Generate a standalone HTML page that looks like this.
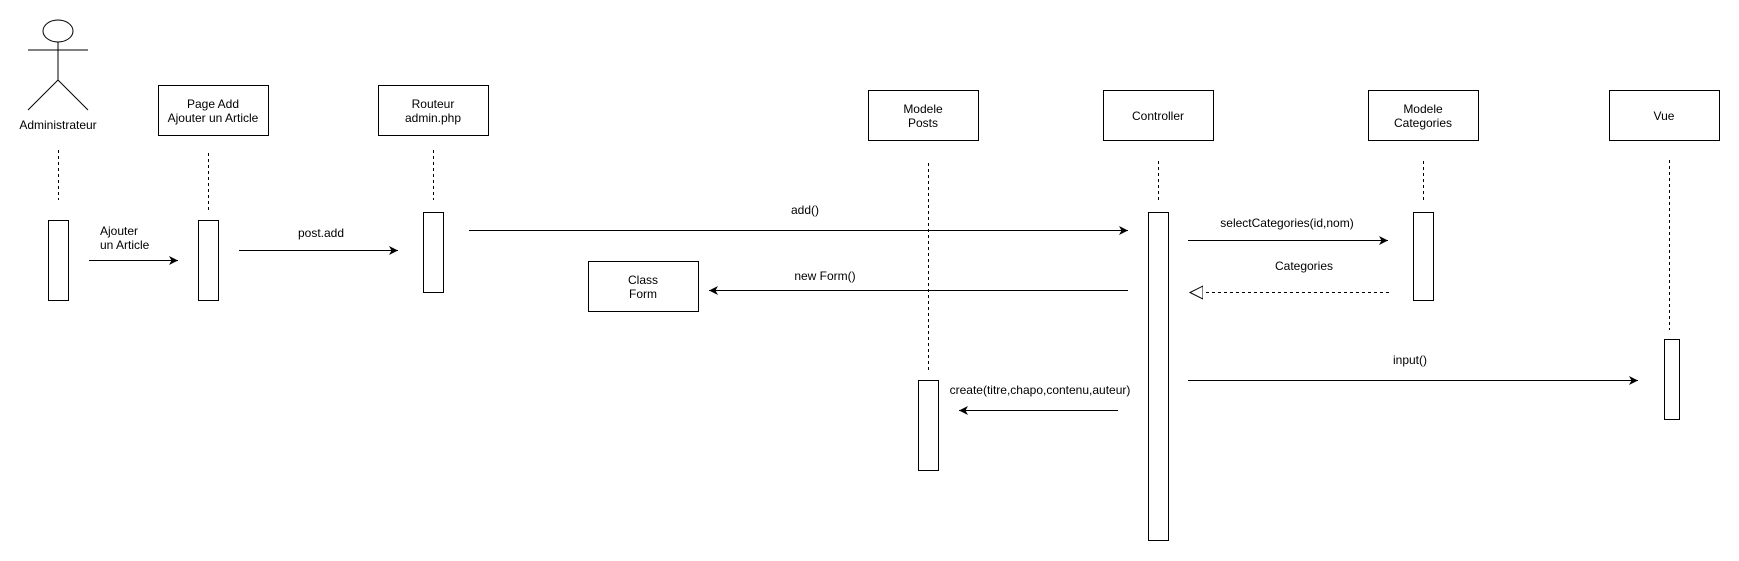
<!DOCTYPE html>
<html><head><meta charset="utf-8"><style>
html,body{margin:0;padding:0;background:#fff;}
svg{display:block;}
text{font-family:"Liberation Sans",sans-serif;font-size:12px;fill:#000;}
</style></head><body>
<svg width="1739" height="561" viewBox="0 0 1739 561" xmlns="http://www.w3.org/2000/svg">
<defs>
<marker id="a" markerWidth="12" markerHeight="12" refX="9" refY="4.5" orient="auto" markerUnits="userSpaceOnUse">
<path d="M0,0 L9,4.5 L0,9 L2.5,4.5 Z" fill="#000"/>
</marker>
<marker id="o" markerWidth="16" markerHeight="16" refX="13" refY="7" orient="auto" markerUnits="userSpaceOnUse">
<path d="M0,0.5 L13,7 L0,13.5 Z" fill="#fff" stroke="#000" stroke-width="1"/>
</marker>
</defs>
<g fill="none" stroke="#000" stroke-width="1">
<ellipse cx="58" cy="31" rx="15" ry="11"/>
<line x1="28" y1="50" x2="88" y2="50"/>
<line x1="58" y1="42" x2="58" y2="80"/>
<line x1="58" y1="80" x2="28" y2="110"/>
<line x1="58" y1="80" x2="88" y2="110"/>
<rect x="158.5" y="85.5" width="110" height="50"/>
<rect x="378.5" y="85.5" width="110" height="50"/>
<rect x="868.5" y="90.5" width="110" height="50"/>
<rect x="1103.5" y="90.5" width="110" height="50"/>
<rect x="1368.5" y="90.5" width="110" height="50"/>
<rect x="1609.5" y="90.5" width="110" height="50"/>
<rect x="588.5" y="261.5" width="110" height="50"/>
<g stroke-dasharray="3,3">
<line x1="58.5" y1="150" x2="58.5" y2="200"/>
<line x1="208.5" y1="153" x2="208.5" y2="210"/>
<line x1="433.5" y1="150" x2="433.5" y2="200"/>
<line x1="928.5" y1="163" x2="928.5" y2="371"/>
<line x1="1158.5" y1="161" x2="1158.5" y2="200"/>
<line x1="1423.5" y1="161" x2="1423.5" y2="200"/>
<line x1="1669.5" y1="160" x2="1669.5" y2="330"/>
</g>
<rect x="48.5" y="220.5" width="20" height="80"/>
<rect x="198.5" y="220.5" width="20" height="80"/>
<rect x="423.5" y="212.5" width="20" height="80"/>
<rect x="918.5" y="380.5" width="20" height="90"/>
<rect x="1148.5" y="212.5" width="20" height="328"/>
<rect x="1413.5" y="212.5" width="20" height="88"/>
<rect x="1664.5" y="339.5" width="15" height="80"/>
<line x1="89" y1="260.5" x2="178" y2="260.5" marker-end="url(#a)"/>
<line x1="239" y1="250.5" x2="398" y2="250.5" marker-end="url(#a)"/>
<line x1="469" y1="230.5" x2="1128" y2="230.5" marker-end="url(#a)"/>
<line x1="1128" y1="290.5" x2="709" y2="290.5" marker-end="url(#a)"/>
<line x1="1118" y1="410.5" x2="959" y2="410.5" marker-end="url(#a)"/>
<line x1="1188" y1="240.5" x2="1388" y2="240.5" marker-end="url(#a)"/>
<line x1="1389" y1="292.5" x2="1190" y2="292.5" stroke-dasharray="3,3" marker-end="url(#o)"/>
<line x1="1188" y1="380.5" x2="1638" y2="380.5" marker-end="url(#a)"/>
</g>
<g text-anchor="middle">
<text x="58" y="129">Administrateur</text>
<text x="213" y="108">Page Add</text>
<text x="213" y="122">Ajouter un Article</text>
<text x="433" y="108">Routeur</text>
<text x="433" y="122">admin.php</text>
<text x="923" y="113">Modele</text>
<text x="923" y="127">Posts</text>
<text x="1158" y="120">Controller</text>
<text x="1423" y="113">Modele</text>
<text x="1423" y="127">Categories</text>
<text x="1664" y="120">Vue</text>
<text x="643" y="284">Class</text>
<text x="643" y="298">Form</text>
<text x="321" y="237">post.add</text>
<text x="805" y="214">add()</text>
<text x="825" y="280">new Form()</text>
<text x="1040" y="394">create(titre,chapo,contenu,auteur)</text>
<text x="1287" y="227">selectCategories(id,nom)</text>
<text x="1304" y="270">Categories</text>
<text x="1410" y="364">input()</text>
</g>
<text x="100" y="235">Ajouter</text>
<text x="100" y="249">un Article</text>
</svg>
</body></html>
